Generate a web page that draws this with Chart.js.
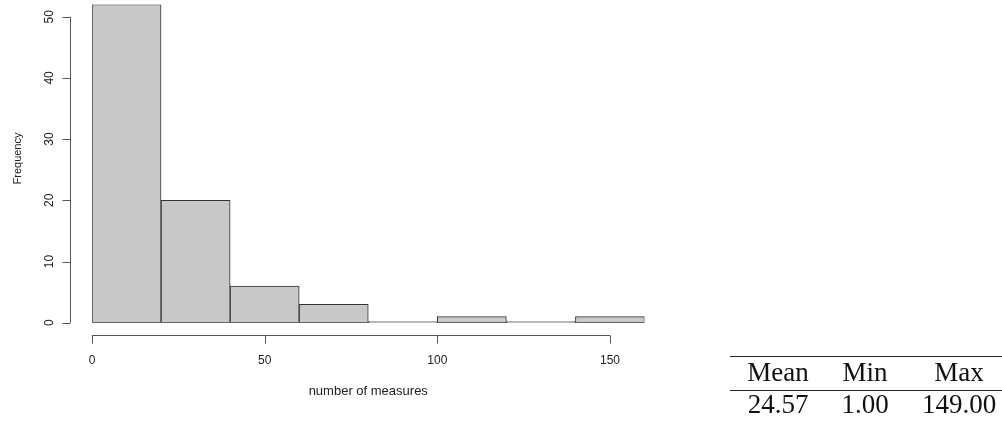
<!DOCTYPE html>
<html>
<head>
<meta charset="utf-8">
<script src="https://cdn.jsdelivr.net/npm/chart.js@4"></script>
<style>
    html, body { margin: 0; padding: 0; background: #fff; }
    #wrap { position: relative; width: 1002px; height: 423px; }
    #histChart { position: absolute; left: 0; top: 0; }
    .rule { position: absolute; left: 730px; width: 272px; height: 1px; background: #222; }
    .cell { position: absolute; font-family: "Liberation Serif", serif; font-size: 27px; line-height: 27px;
            color: #111; white-space: nowrap; transform: translateX(-50%); }
</style>
</head>
<body>
<div id="wrap">
    <canvas id="histChart" width="1002" height="423"></canvas>
    <div class="rule" style="top:356px"></div>
    <div class="rule" style="top:390px"></div>
    <div id="stats"></div>
</div>
<script>
// ----- data -----
const binEdges = [0, 20, 40, 60, 80, 100, 120, 140, 160];
const binCounts = [52, 20, 6, 3, 0, 1, 0, 1];
const xTickValues = [0, 50, 100, 150];
const yTickValues = [0, 10, 20, 30, 40, 50];
const xTitle = 'number of measures';
const yTitle = 'Frequency';
const statNames = ['Mean', 'Min', 'Max'];
const statValues = ['24.57', '1.00', '149.00'];
// ----------------

// each bar sits at the middle of its bin
const barPoints = binCounts.map((count, i) => ({ x: (binEdges[i] + binEdges[i + 1]) / 2, y: count }));

// ----- stats table (html text) -----
const colCenters = [778, 865, 959];
const statsDiv = document.getElementById('stats');
statNames.forEach((name, i) => {
    statsDiv.insertAdjacentHTML('beforeend',
        `<div class="cell" style="left:${colCenters[i]}px; top:359px">${name}</div>`);
    statsDiv.insertAdjacentHTML('beforeend',
        `<div class="cell" style="left:${colCenters[i]}px; top:390.5px">${statValues[i]}</div>`);
});

// draw R style axes (detached from the plot area)
const rAxes = {
    id: 'rAxes',
    afterDraw(chart) {
        const ctx = chart.ctx;
        const xs = chart.scales.x;
        const ys = chart.scales.y;
        const axisX = 70.5;   // y axis line
        const axisY = 335.5;  // x axis line
        const tick = 8;

        ctx.save();
        ctx.strokeStyle = '#555';
        ctx.lineWidth = 1;
        ctx.fillStyle = '#222';

        // ----- x axis -----
        const x0 = xs.getPixelForValue(xTickValues[0]);
        const x1 = xs.getPixelForValue(xTickValues[xTickValues.length - 1]);
        ctx.beginPath();
        ctx.moveTo(x0, axisY);
        ctx.lineTo(x1, axisY);
        xTickValues.forEach(v => {
            const px = Math.round(xs.getPixelForValue(v)) + 0.5;
            ctx.moveTo(px, axisY);
            ctx.lineTo(px, axisY + tick);
        });
        ctx.stroke();

        ctx.font = '12px "Liberation Sans", Arial, sans-serif';
        ctx.textAlign = 'center';
        ctx.textBaseline = 'alphabetic';
        xTickValues.forEach(v => {
            ctx.fillText(String(v), xs.getPixelForValue(v), 364);
        });
        ctx.font = '13px "Liberation Sans", Arial, sans-serif';
        ctx.fillText(xTitle, (xs.left + xs.right) / 2, 395);

        // ----- y axis -----
        const y0 = ys.getPixelForValue(yTickValues[0]);
        const y1 = ys.getPixelForValue(yTickValues[yTickValues.length - 1]);
        ctx.beginPath();
        ctx.moveTo(axisX, y0);
        ctx.lineTo(axisX, y1);
        yTickValues.forEach(v => {
            const py = Math.round(ys.getPixelForValue(v)) + 0.5;
            ctx.moveTo(axisX, py);
            ctx.lineTo(axisX - tick, py);
        });
        ctx.stroke();

        ctx.font = '12px "Liberation Sans", Arial, sans-serif';
        yTickValues.forEach(v => {
            ctx.save();
            ctx.translate(52.5, ys.getPixelForValue(v));
            ctx.rotate(-Math.PI / 2);
            ctx.fillText(String(v), 0, 0);
            ctx.restore();
        });

        ctx.font = '11px "Liberation Sans", Arial, sans-serif';
        ctx.save();
        ctx.translate(20.5, 158.5);
        ctx.rotate(-Math.PI / 2);
        ctx.fillText(yTitle, 0, 0);
        ctx.restore();

        ctx.restore();
    }
};

const ctx = document.getElementById('histChart').getContext('2d');
new Chart(ctx, {
    type: 'bar',
    data: {
        datasets: [{
            data: barPoints,
            backgroundColor: '#c8c8c8',
            borderColor: '#333',
            borderWidth: 1,
            borderSkipped: false,
            minBarLength: 1,      // empty bins still show a line like R does
            barPercentage: 1,
            categoryPercentage: 1
        }]
    },
    options: {
        responsive: false,
        animation: false,
        layout: {
            padding: { left: 92, right: 357.5, top: 4.5, bottom: 100.3 }
        },
        scales: {
            x: { type: 'linear', min: binEdges[0], max: binEdges[binEdges.length - 1], offset: false, display: false },
            y: { type: 'linear', min: 0, max: 52, display: false }
        },
        plugins: {
            legend: { display: false },
            tooltip: { enabled: false }
        }
    },
    plugins: [rAxes]
});
</script>
</body>
</html>
